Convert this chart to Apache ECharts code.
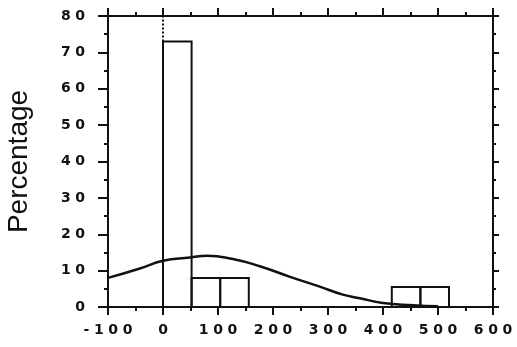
<!DOCTYPE html>
<html>
<head>
<meta charset="utf-8">
<script src="https://cdn.jsdelivr.net/npm/echarts@6/dist/echarts.min.js"></script>
<style>
  html, body { margin: 0; padding: 0; background: #fff; }
  #chart { width: 517px; height: 347px; }
</style>
</head>
<body>
<div id="chart"></div>
<script>
// Histogram bins (lower edge, upper edge) and their percentages
const binStart = [0, 52, 104, 416, 468];
const binEnd = [52, 104, 156, 468, 520];
const binPct = [73, 8, 8, 5.5, 5.5];

// Fitted density curve, in percent
const curveX = [-100, -42, 0, 49, 80, 127, 176, 231, 285, 327, 358, 400, 455, 500];
const curveY = [8.0, 10.6, 12.7, 13.6, 14.1, 13.2, 11.2, 8.3, 5.6, 3.4, 2.4, 1.1, 0.5, 0.2];

// Axis ranges
const xMin = -100, xMax = 600, xStep = 100;
const yMin = 0, yMax = 80, yStep = 10;

const ink = '#111';
// wide-tracked numerals
const spaced = s => String(s).split('').join('\u2004');

const histData = binStart.map((s, i) => [s, binEnd[i], binPct[i]]);
const curveData = curveX.map((x, i) => [x, curveY[i]]);

const tickFont = {
  color: ink, fontFamily: 'DejaVu Sans', fontWeight: 'bold', fontSize: 14
};

const lineStyle = { color: ink, width: 2 };

const chart = echarts.init(document.getElementById('chart'));
chart.setOption({
  backgroundColor: '#fff',
  animation: false,
  grid: { left: 108, right: 24, top: 16, bottom: 40, containLabel: false, outerBoundsMode: 'none' },
  xAxis: [
    {
      type: 'value', position: 'bottom', min: xMin, max: xMax, interval: xStep,
      axisLine: { onZero: false, lineStyle },
      axisTick: { length: 8, lineStyle },
      minorTick: { show: true, splitNumber: 2, length: 4, lineStyle },
      splitLine: { show: false },
      axisLabel: Object.assign({ margin: 16, formatter: v => spaced(v) }, tickFont)
    },
    {
      type: 'value', position: 'top', min: xMin, max: xMax, interval: xStep,
      axisLine: { onZero: false, lineStyle },
      axisTick: { length: 8, lineStyle },
      minorTick: { show: true, splitNumber: 2, length: 4, lineStyle },
      splitLine: { show: false },
      axisLabel: { show: false }
    }
  ],
  yAxis: [
    {
      type: 'value', position: 'left', min: yMin, max: yMax, interval: yStep,
      name: 'Percentage', nameLocation: 'middle', nameGap: 75, nameRotate: 90,
      nameTextStyle: { color: ink, fontFamily: 'Liberation Sans', fontSize: 28 },
      axisLine: { onZero: false, lineStyle },
      axisTick: { length: 10, lineStyle },
      minorTick: { show: true, splitNumber: 2, length: 4, lineStyle },
      splitLine: { show: false },
      axisLabel: Object.assign({ margin: 23, formatter: v => spaced(v) }, tickFont)
    },
    {
      type: 'value', position: 'right', min: yMin, max: yMax, interval: yStep,
      axisLine: { onZero: false, lineStyle },
      axisTick: { length: 6, lineStyle },
      minorTick: { show: true, splitNumber: 2, length: 3, lineStyle },
      splitLine: { show: false },
      axisLabel: { show: false }
    }
  ],
  series: [
    {
      type: 'custom',
      xAxisIndex: 0, yAxisIndex: 0,
      data: histData,
      renderItem: (params, api) => {
        const topLeft = api.coord([api.value(0), api.value(2)]);
        const bottomRight = api.coord([api.value(1), 0]);
        return {
          type: 'rect',
          shape: {
            x: topLeft[0], y: topLeft[1],
            width: bottomRight[0] - topLeft[0],
            height: bottomRight[1] - topLeft[1]
          },
          style: { fill: 'none', stroke: ink, lineWidth: 2 }
        };
      },
      z: 2
    },
    {
      // dotted reference line at x = 0 above the tallest bar
      type: 'line',
      xAxisIndex: 0, yAxisIndex: 0,
      data: [[0, binPct[0]], [0, yMax]],
      symbol: 'none',
      lineStyle: { color: ink, width: 2, type: [2, 2] },
      z: 2
    },
    {
      type: 'line',
      xAxisIndex: 0, yAxisIndex: 0,
      data: curveData,
      smooth: true,
      symbol: 'none',
      lineStyle: { color: ink, width: 2.5 },
      z: 3
    }
  ]
});
</script>
</body>
</html>
